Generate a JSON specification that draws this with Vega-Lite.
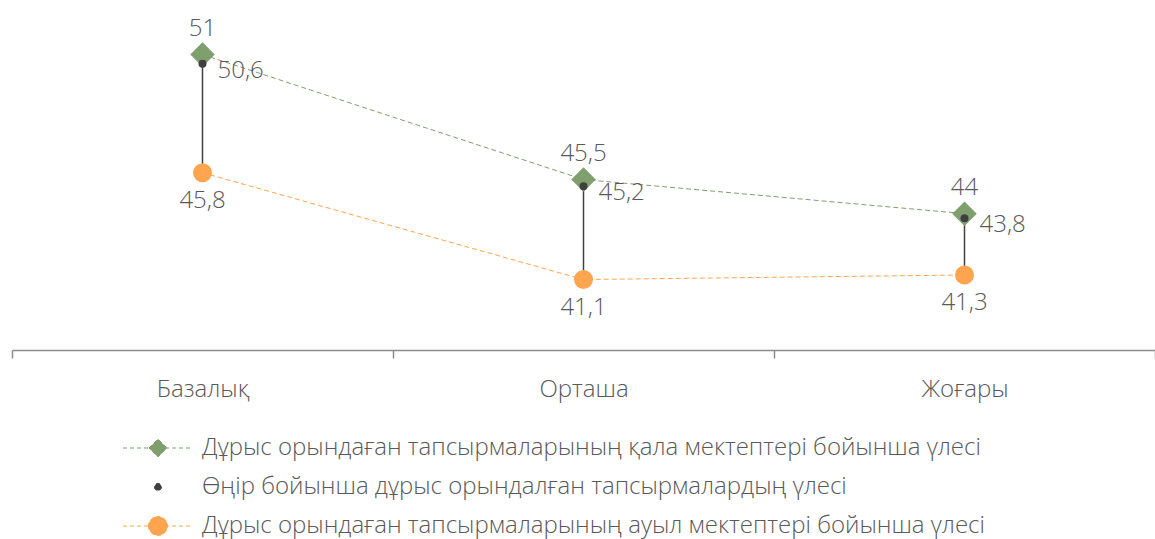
{
  "$schema": "https://vega.github.io/schema/vega-lite/v6.json",
  "width": 1143,
  "height": 350,
  "padding": {"left": 12, "top": 0, "right": 0, "bottom": 189},
  "autosize": {"type": "none"},
  "config": {
    "view": {"stroke": null},
    "font": "Open Sans",
    "locale": {"number": {"decimal": ",", "thousands": " ", "grouping": [3], "currency": ["", ""]}}
  },
  "data": {
    "values": [
      {"level": "Базалық", "series": "Дұрыс орындаған тапсырмаларының қала мектептері бойынша үлесі", "value": 51},
      {"level": "Базалық", "series": "Өңір бойынша дұрыс орындалған тапсырмалардың үлесі", "value": 50.6},
      {"level": "Базалық", "series": "Дұрыс орындаған тапсырмаларының ауыл мектептері бойынша үлесі", "value": 45.8},
      {"level": "Орташа", "series": "Дұрыс орындаған тапсырмаларының қала мектептері бойынша үлесі", "value": 45.5},
      {"level": "Орташа", "series": "Өңір бойынша дұрыс орындалған тапсырмалардың үлесі", "value": 45.2},
      {"level": "Орташа", "series": "Дұрыс орындаған тапсырмаларының ауыл мектептері бойынша үлесі", "value": 41.1},
      {"level": "Жоғары", "series": "Дұрыс орындаған тапсырмаларының қала мектептері бойынша үлесі", "value": 44},
      {"level": "Жоғары", "series": "Өңір бойынша дұрыс орындалған тапсырмалардың үлесі", "value": 43.8},
      {"level": "Жоғары", "series": "Дұрыс орындаған тапсырмаларының ауыл мектептері бойынша үлесі", "value": 41.3}
    ]
  },
  "encoding": {
    "x": {
      "field": "level",
      "type": "nominal",
      "sort": ["Базалық", "Орташа", "Жоғары"],
      "scale": {"type": "band", "paddingInner": 0, "paddingOuter": 0},
      "axis": {
        "title": null,
        "labelAngle": 0,
        "tickBand": "extent",
        "domainColor": "#8c8c8c",
        "domainWidth": 1.5,
        "tickColor": "#8c8c8c",
        "tickWidth": 1.5,
        "tickSize": 8,
        "labelFont": "Open Sans",
        "labelFontWeight": 300,
        "labelFontSize": 24,
        "labelColor": "#595959",
        "labelPadding": 19
      }
    }
  },
  "layer": [
    {
      "transform": [{"filter": "datum.series !== 'Өңір бойынша дұрыс орындалған тапсырмалардың үлесі'"}],
      "mark": {"type": "line", "strokeDash": [5, 3], "strokeWidth": 1},
      "encoding": {
        "y": {"field": "value", "type": "quantitative", "scale": {"domain": [38, 53.4], "nice": false, "zero": false}, "axis": null},
        "color": {
          "field": "series",
          "type": "nominal",
          "scale": {
            "domain": [
              "Дұрыс орындаған тапсырмаларының қала мектептері бойынша үлесі",
              "Өңір бойынша дұрыс орындалған тапсырмалардың үлесі",
              "Дұрыс орындаған тапсырмаларының ауыл мектептері бойынша үлесі"
            ],
            "range": ["#7f9f6f", "#404040", "#ffa54f"]
          },
          "legend": {
            "title": null,
            "orient": "none",
            "legendX": 134,
            "legendY": 436,
            "direction": "vertical",
            "symbolSize": 4,
            "labelOffset": 32,
            "labelFont": "Open Sans",
            "labelFontWeight": 300,
            "labelFontSize": 24,
            "labelColor": "#595959",
            "labelLimit": 0,
            "rowPadding": 15,
            "encode": {
              "symbols": {
                "update": {
                  "shape": {"signal": "datum.index === 0 ? 'M-35,0L35,0M-9,0L0,-9L9,0L0,9Z' : datum.index === 1 ? 'M-3.5,0A3.5,3.5,0,1,0,3.5,0A3.5,3.5,0,1,0,-3.5,0Z' : 'M-35,0L35,0M-9.5,0A9.5,9.5,0,1,0,9.5,0A9.5,9.5,0,1,0,-9.5,0Z'"},
                  "size": {"value": 4},
                  "fill": {"scale": "color", "field": "value"},
                  "stroke": {"scale": "color", "field": "value"},
                  "strokeWidth": {"value": 1},
                  "strokeDash": {"value": [4, 3]},
                  "opacity": {"value": 1},
                  "fillOpacity": {"value": 1}
                }
              }
            }
          }
        }
      }
    },
    {
      "mark": {"type": "rule", "color": "#404040", "strokeWidth": 1.5},
      "encoding": {
        "y": {"aggregate": "min", "field": "value", "type": "quantitative"},
        "y2": {"aggregate": "max", "field": "value"}
      }
    },
    {
      "transform": [{"filter": "datum.series === 'Дұрыс орындаған тапсырмаларының қала мектептері бойынша үлесі'"}],
      "mark": {"type": "point", "shape": "diamond", "filled": true, "size": 600, "color": "#7f9f6f", "opacity": 1},
      "encoding": {"y": {"field": "value", "type": "quantitative"}}
    },
    {
      "transform": [{"filter": "datum.series === 'Дұрыс орындаған тапсырмаларының ауыл мектептері бойынша үлесі'"}],
      "mark": {"type": "point", "shape": "circle", "filled": true, "size": 361, "color": "#ffa54f", "opacity": 1},
      "encoding": {"y": {"field": "value", "type": "quantitative"}}
    },
    {
      "transform": [{"filter": "datum.series === 'Өңір бойынша дұрыс орындалған тапсырмалардың үлесі'"}],
      "mark": {"type": "point", "shape": "circle", "filled": true, "size": 64, "color": "#404040", "opacity": 1},
      "encoding": {"y": {"field": "value", "type": "quantitative"}}
    },
    {
      "transform": [{"filter": "datum.series === 'Дұрыс орындаған тапсырмаларының қала мектептері бойынша үлесі'"}],
      "mark": {"type": "text", "dy": -26, "fontSize": 24, "fontWeight": 300, "font": "Open Sans", "color": "#595959", "baseline": "middle", "align": "center"},
      "encoding": {"y": {"field": "value", "type": "quantitative"}, "text": {"field": "value", "type": "quantitative", "format": ".3~g"}}
    },
    {
      "transform": [{"filter": "datum.series === 'Өңір бойынша дұрыс орындалған тапсырмалардың үлесі'"}],
      "mark": {"type": "text", "dx": 15, "dy": 7, "fontSize": 24, "fontWeight": 300, "font": "Open Sans", "color": "#595959", "baseline": "middle", "align": "left"},
      "encoding": {"y": {"field": "value", "type": "quantitative"}, "text": {"field": "value", "type": "quantitative", "format": ".3~g"}}
    },
    {
      "transform": [{"filter": "datum.series === 'Дұрыс орындаған тапсырмаларының ауыл мектептері бойынша үлесі'"}],
      "mark": {"type": "text", "dy": 28, "fontSize": 24, "fontWeight": 300, "font": "Open Sans", "color": "#595959", "baseline": "middle", "align": "center"},
      "encoding": {"y": {"field": "value", "type": "quantitative"}, "text": {"field": "value", "type": "quantitative", "format": ".3~g"}}
    }
  ]
}
